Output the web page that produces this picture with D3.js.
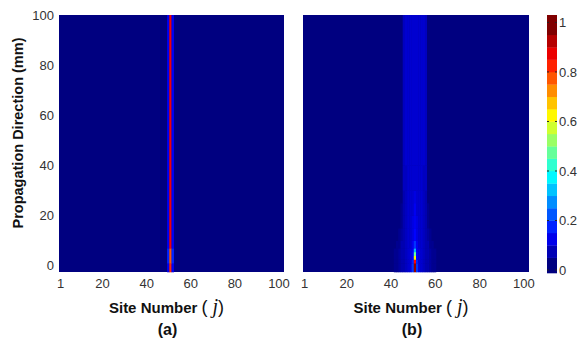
<!DOCTYPE html>
<html>
<head>
<meta charset="utf-8">
<script src="https://cdn.jsdelivr.net/npm/d3@7"></script>
<style>
  body { margin: 0; background: #fff; }
  text { font-family: "Liberation Sans", Arial, sans-serif; }
  .tick text { font-size: 13px; fill: #333; }
  .title { font-size: 15px; font-weight: bold; fill: #111; }
</style>
</head>
<body>
<div id="chart"></div>
<script>
// axes
const siteDomain = [0.5, 102.5];
const zDomain = [-2.5, 100];
const xTicks = [1, 20, 40, 60, 80, 100];
const yTicks = [0, 20, 40, 60, 80, 100];
const cbTicks = [0, 0.2, 0.4, 0.6, 0.8, 1];
const cbDomain = [-0.012, 1.03];
const backgroundValue = 0;

// panel (a): straight beam at the centre site
const sitesA = [50, 51, 52];
const zEdgesA = [-2.5, 1, 7, 100];
const intensityA = [
  [0.12, 0.84, 0.12],
  [0.16, 0.79, 0.16],
  [0.12, 0.88, 0.12]
];

// panel (b): beam spreads out from the centre site
const sitesB = [42, 43, 44, 45, 46, 47, 48, 49, 50, 51, 52, 53, 54, 55, 56, 57, 58, 59, 60];
const zEdgesB = [-2.5, 1, 2.5, 4, 5.5, 7, 10, 15, 20, 25, 30, 40, 100];
const intensityB = [
  [0.02, 0.03, 0.04, 0.05, 0.06, 0.07, 0.08, 0.10, 0.18, 0.97, 0.18, 0.10, 0.08, 0.07, 0.06, 0.05, 0.04, 0.03, 0.02],
  [0.02, 0.03, 0.04, 0.05, 0.06, 0.07, 0.08, 0.10, 0.16, 0.86, 0.16, 0.10, 0.08, 0.07, 0.06, 0.05, 0.04, 0.03, 0.02],
  [0.02, 0.03, 0.04, 0.05, 0.06, 0.07, 0.08, 0.10, 0.14, 0.64, 0.14, 0.10, 0.08, 0.07, 0.06, 0.05, 0.04, 0.03, 0.02],
  [0.02, 0.03, 0.04, 0.05, 0.06, 0.07, 0.08, 0.10, 0.13, 0.48, 0.13, 0.10, 0.08, 0.07, 0.06, 0.05, 0.04, 0.03, 0.02],
  [0.02, 0.03, 0.04, 0.05, 0.06, 0.07, 0.08, 0.10, 0.12, 0.30, 0.12, 0.10, 0.08, 0.07, 0.06, 0.05, 0.04, 0.03, 0.02],
  [0.01, 0.02, 0.03, 0.05, 0.06, 0.07, 0.08, 0.09, 0.11, 0.18, 0.11, 0.09, 0.08, 0.07, 0.06, 0.05, 0.03, 0.02, 0.01],
  [0.0, 0.01, 0.02, 0.04, 0.06, 0.07, 0.08, 0.09, 0.10, 0.14, 0.10, 0.09, 0.08, 0.07, 0.06, 0.04, 0.02, 0.01, 0.0],
  [0.0, 0.0, 0.01, 0.03, 0.06, 0.07, 0.08, 0.09, 0.10, 0.12, 0.10, 0.09, 0.08, 0.07, 0.06, 0.03, 0.01, 0.0, 0.0],
  [0.0, 0.0, 0.0, 0.02, 0.06, 0.07, 0.08, 0.08, 0.09, 0.11, 0.09, 0.08, 0.08, 0.07, 0.06, 0.02, 0.0, 0.0, 0.0],
  [0.0, 0.0, 0.0, 0.01, 0.06, 0.07, 0.08, 0.08, 0.09, 0.10, 0.09, 0.08, 0.08, 0.07, 0.06, 0.01, 0.0, 0.0, 0.0],
  [0.0, 0.0, 0.0, 0.01, 0.07, 0.07, 0.08, 0.08, 0.09, 0.09, 0.09, 0.08, 0.08, 0.07, 0.07, 0.01, 0.0, 0.0, 0.0],
  [0.0, 0.0, 0.0, 0.01, 0.07, 0.08, 0.08, 0.09, 0.09, 0.09, 0.09, 0.09, 0.08, 0.08, 0.07, 0.01, 0.0, 0.0, 0.0]
];

const width = 587, height = 345;
const plotTop = 15, plotBottom = 272;
const panels = [
  { left: 59, right: 284, sites: sitesA, edges: zEdgesA, values: intensityA, label: '(a)', yAxis: true },
  { left: 303, right: 529, sites: sitesB, edges: zEdgesB, values: intensityB, label: '(b)', yAxis: false }
];

// jet colour map
function jet(t) {
  const c = v => Math.max(0, Math.min(1, v));
  const r = c(1.5 - Math.abs(4 * t - 3));
  const g = c(1.5 - Math.abs(4 * t - 2));
  const b = c(1.5 - Math.abs(4 * t - 1));
  return d3.rgb(r * 255, g * 255, b * 255).toString();
}
// fine levels for the field, coarse bands for the colour bar
const color = d3.scaleQuantize().domain([0, 1]).range(d3.range(64).map(i => jet(i / 63)));
const nLevels = 20;
const levelColors = d3.range(nLevels).map(i => jet(i / (nLevels - 1)));

const svg = d3.select('#chart').append('svg')
  .attr('width', width)
  .attr('height', height);

panels.forEach(p => {
  const x = d3.scaleLinear().domain(siteDomain).range([p.left, p.right]);
  const y = d3.scaleLinear().domain(zDomain).range([plotBottom, plotTop]);
  const g = svg.append('g');

  // background field
  g.append('rect')
    .attr('x', x(siteDomain[0]))
    .attr('y', y(zDomain[1]))
    .attr('width', x(siteDomain[1]) - x(siteDomain[0]))
    .attr('height', y(zDomain[0]) - y(zDomain[1]))
    .attr('fill', color(backgroundValue));

  // cells around the beam
  const cells = [];
  p.values.forEach((row, i) => {
    row.forEach((v, k) => {
      cells.push({ j: p.sites[k], z0: p.edges[i], z1: p.edges[i + 1], v: v });
    });
  });
  g.selectAll('rect.cell')
    .data(cells)
    .enter().append('rect')
    .attr('class', 'cell')
    .attr('x', d => x(d.j - 0.5))
    .attr('y', d => y(d.z1))
    .attr('width', d => x(d.j + 0.5) - x(d.j - 0.5) + 0.3)
    .attr('height', d => y(d.z0) - y(d.z1) + 0.3)
    .attr('fill', d => color(d.v));

  // axes
  const xAxis = svg.append('g')
    .attr('transform', `translate(0, ${plotBottom})`)
    .call(d3.axisBottom(x).tickValues(xTicks).tickSize(0).tickPadding(7));
  xAxis.select('.domain').remove();

  if (p.yAxis) {
    const yAxis = svg.append('g')
      .attr('transform', `translate(${p.left}, 0)`)
      .call(d3.axisLeft(y).tickValues(yTicks).tickSize(0).tickPadding(5));
    yAxis.select('.domain').remove();

    svg.append('text')
      .attr('class', 'title')
      .attr('text-anchor', 'middle')
      .attr('transform', `translate(23, 133) rotate(-90)`)
      .style('font-size', '14.5px')
      .text('Propagation Direction (mm)');
  }

  const cx = (p.left + p.right) / 2 - 5;
  const t = svg.append('text')
    .attr('class', 'title')
    .attr('x', cx)
    .attr('y', 313)
    .attr('text-anchor', 'middle');
  t.append('tspan').text('Site Number ');
  t.append('tspan').style('font-size', '18px').style('font-weight', 'normal').text('(');
  t.append('tspan')
    .style('font-family', '"Liberation Serif", "DejaVu Serif", serif')
    .style('font-style', 'italic')
    .style('font-weight', 'normal')
    .style('font-size', '20px')
    .text(' j');
  t.append('tspan').style('font-size', '18px').style('font-weight', 'normal').text(')');

  svg.append('text')
    .attr('class', 'title')
    .attr('x', cx + 1)
    .attr('y', 335)
    .attr('text-anchor', 'middle')
    .style('font-size', '16px')
    .text(p.label);
});

// colour bar
const cbLeft = 547, cbRight = 557;
const cbY = d3.scaleLinear().domain(cbDomain).range([273, 15]);
const levels = d3.range(nLevels).map(i => ({
  lo: i === 0 ? cbDomain[0] : i / nLevels,
  hi: i === nLevels - 1 ? cbDomain[1] : (i + 1) / nLevels,
  c: levelColors[i]
}));
svg.append('g').selectAll('rect')
  .data(levels)
  .enter().append('rect')
  .attr('x', cbLeft)
  .attr('y', d => cbY(d.hi))
  .attr('width', cbRight - cbLeft)
  .attr('height', d => cbY(d.lo) - cbY(d.hi) + 0.3)
  .attr('fill', d => d.c);

const cbAxis = svg.append('g')
  .attr('transform', `translate(${cbRight}, 0)`)
  .call(d3.axisRight(cbY).tickValues(cbTicks).tickSize(0).tickPadding(2).tickFormat(d3.format('')));
cbAxis.select('.domain').remove();

// small tick marks on both edges of the bar
svg.append('g').selectAll('line')
  .data(cbTicks.flatMap(v => [{ v: v, x0: cbLeft, x1: cbLeft + 2 }, { v: v, x0: cbRight - 2, x1: cbRight }]))
  .enter().append('line')
  .attr('x1', d => d.x0)
  .attr('x2', d => d.x1)
  .attr('y1', d => cbY(d.v))
  .attr('y2', d => cbY(d.v))
  .attr('stroke', '#222')
  .attr('stroke-width', 1);
</script>
</body>
</html>
